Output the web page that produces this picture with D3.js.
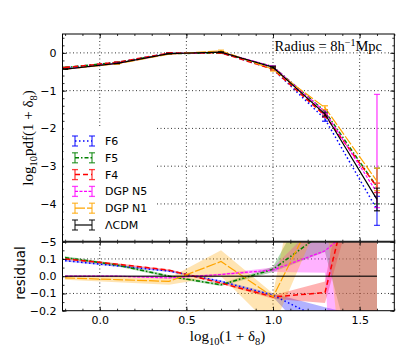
<!DOCTYPE html>
<html>
<head>
<meta charset="utf-8">
<script src="https://cdnjs.cloudflare.com/ajax/libs/d3/7.8.5/d3.min.js"></script>
<style>
  body { margin: 0; background: #fff; }
  svg { display: block; }
</style>
</head>
<body>
<svg id="chart"></svg>
<script>
// bin centres, log10(1+delta8)
const xVals = [-0.2, 0.1, 0.4, 0.7, 1.0, 1.3, 1.6];
const seriesNames = ['F6', 'F5', 'F4', 'DGP N5', 'DGP N1', 'ΛCDM'];

// log10 pdf, top panel
const pdfF6   = [-0.393, -0.255, -0.007, 0.007, -0.43, -1.75, -4.15];
const pdfF5   = [-0.386, -0.253, -0.02, -0.002, -0.365, -1.55, -3.55];
const pdfF4   = [-0.389, -0.25, -0.005, 0.002, -0.435, -1.66, -3.55];
const pdfN5   = [-0.43, -0.28, -0.024, 0.024, -0.365, -1.56, -3.7];
const pdfN1   = [-0.434, -0.289, -0.033, 0.055, -0.435, -1.45, -3.4];
const pdfLCDM = [-0.43, -0.28, -0.02, 0.02, -0.38, -1.62, -3.88];

// error bars (down / up)
const errF6Lo   = [0.005, 0.005, 0.005, 0.005, 0.02, 0.06, 0.42];
const errF6Hi   = [0.005, 0.005, 0.005, 0.005, 0.02, 0.06, 0.35];
const errF5Lo   = [0.005, 0.005, 0.005, 0.005, 0.02, 0.05, 0.45];
const errF5Hi   = [0.005, 0.005, 0.005, 0.005, 0.02, 0.05, 0.5];
const errF4Lo   = [0.005, 0.005, 0.005, 0.005, 0.02, 0.04, 0.15];
const errF4Hi   = [0.005, 0.005, 0.005, 0.005, 0.02, 0.04, 0.1];
const errN5Lo   = [0.005, 0.005, 0.005, 0.005, 0.02, 0.05, 0.4];
const errN5Hi   = [0.005, 0.005, 0.005, 0.005, 0.02, 0.05, 2.6];
const errN1Lo   = [0.005, 0.005, 0.005, 0.02, 0.05, 0.05, 0.25];
const errN1Hi   = [0.005, 0.005, 0.005, 0.02, 0.05, 0.05, 0.35];
const errLCDMLo = [0.005, 0.005, 0.005, 0.005, 0.02, 0.05, 0.3];
const errLCDMHi = [0.005, 0.005, 0.005, 0.005, 0.02, 0.05, 0.3];

// residual w.r.t. LCDM, bottom panel
const resF6   = [0.09, 0.06, 0.03, -0.03, -0.11, -0.26, -0.46];
const resF6Lo = [0.085, 0.055, 0.025, -0.035, -0.12, -0.45, -0.7];
const resF6Hi = [0.095, 0.065, 0.035, -0.025, -0.1, -0.18, -0.25];
const resF5   = [0.108, 0.065, 0.0, -0.05, 0.04, 0.26, 1.14];
const resF5Lo = [0.1, 0.058, -0.007, -0.057, 0.025, 0.14, -1.0];
const resF5Hi = [0.116, 0.072, 0.007, -0.043, 0.055, 0.6, 20];
const resF4   = [0.1, 0.07, 0.035, -0.04, -0.12, -0.095, 1.14];
const resF4Lo = [0.095, 0.065, 0.03, -0.045, -0.13, -0.155, 0.9];
const resF4Hi = [0.105, 0.075, 0.04, -0.035, -0.11, -0.03, 1.5];
const resN5   = [0.0, 0.0, -0.01, 0.01, 0.036, 0.147, 0.4];
const resN5Lo = [-0.005, -0.005, -0.015, 0.005, 0.025, 0.02, -5];
const resN5Hi = [0.005, 0.005, -0.005, 0.015, 0.05, 0.35, 20];
const resN1   = [-0.01, -0.02, -0.03, 0.085, -0.12, 0.48, 2.0];
const resN1Lo = [-0.02, -0.035, -0.05, 0.0, -0.3, 0.4, -2.5];
const resN1Hi = [0.0, -0.005, -0.01, 0.15, -0.1, 1.4, 20];
const resLCDM = [0, 0, 0, 0, 0, 0, 0];

const mainTicks = [-5, -4, -3, -2, -1, 0];
const resTicks = [-0.2, -0.1, 0.0, 0.1];
const xTicks = [0.0, 0.5, 1.0, 1.5];

const styles = {
  'F6':     { color: '#0000ff', dash: '1.5,2.5', width: 1.5 },
  'F5':     { color: '#008000', dash: '4,2,1.5,2', width: 1.5 },
  'F4':     { color: '#ff0000', dash: '5,3', width: 1.5 },
  'DGP N5': { color: '#ff00ff', dash: '3,1.5', width: 1.2 },
  'DGP N1': { color: '#ffa500', dash: '10,2', width: 1.2 },
  'ΛCDM':   { color: '#000000', dash: null, width: 1.2 }
};

const series = [
  { pdf: pdfF6, lo: errF6Lo, hi: errF6Hi, res: resF6, rLo: resF6Lo, rHi: resF6Hi },
  { pdf: pdfF5, lo: errF5Lo, hi: errF5Hi, res: resF5, rLo: resF5Lo, rHi: resF5Hi },
  { pdf: pdfF4, lo: errF4Lo, hi: errF4Hi, res: resF4, rLo: resF4Lo, rHi: resF4Hi },
  { pdf: pdfN5, lo: errN5Lo, hi: errN5Hi, res: resN5, rLo: resN5Lo, rHi: resN5Hi },
  { pdf: pdfN1, lo: errN1Lo, hi: errN1Hi, res: resN1, rLo: resN1Lo, rHi: resN1Hi },
  { pdf: pdfLCDM, lo: errLCDMLo, hi: errLCDMHi, res: resLCDM, rLo: null, rHi: null }
].map((s, i) => Object.assign(s, { name: seriesNames[i] }));

const width = 415, height = 346;
const left = 62.5, right = 394.3, mainTop = 34, mainBot = 241.7, resBot = 310.7;

const x = d3.scaleLinear().domain([-0.215, 1.7]).range([left, right]);
const yMain = d3.scaleLinear().domain([-5, 0.5]).range([mainBot, mainTop]);
const yRes = d3.scaleLinear().domain([-0.2, 0.2]).range([resBot, mainBot]);

const svg = d3.select('#chart')
  .attr('width', width)
  .attr('height', height)
  .style('font-family', '"DejaVu Sans", sans-serif');

const defs = svg.append('defs');
defs.append('clipPath').attr('id', 'clipMain')
  .append('rect').attr('x', left).attr('y', mainTop)
  .attr('width', right - left).attr('height', mainBot - mainTop);
defs.append('clipPath').attr('id', 'clipRes')
  .append('rect').attr('x', left).attr('y', mainBot)
  .attr('width', right - left).attr('height', resBot - mainBot);

// grid
const grid = svg.append('g')
  .attr('stroke', '#000')
  .attr('stroke-width', 0.8)
  .attr('stroke-dasharray', '1,2.5');
xTicks.forEach(v => {
  grid.append('line').attr('x1', x(v)).attr('x2', x(v)).attr('y1', mainTop).attr('y2', resBot);
});
[-4, -3, -2, -1, 0].forEach(v => {
  grid.append('line').attr('x1', left).attr('x2', right).attr('y1', yMain(v)).attr('y2', yMain(v));
});
[-0.1, 0.1].forEach(v => {
  grid.append('line').attr('x1', left).attr('x2', right).attr('y1', yRes(v)).attr('y2', yRes(v));
});

// ---- main panel
const mainG = svg.append('g').attr('clip-path', 'url(#clipMain)');
const line = d3.line().x((d, i) => x(xVals[i])).y(d => yMain(d));

series.forEach(s => {
  const st = styles[s.name];
  const g = mainG.append('g');
  g.append('path')
    .attr('d', line(s.pdf))
    .attr('fill', 'none')
    .attr('stroke', st.color)
    .attr('stroke-width', st.width)
    .attr('stroke-dasharray', st.dash);

  const bars = g.selectAll('g.bar')
    .data(xVals.map((xv, i) => ({ xv, v: s.pdf[i], lo: s.lo[i], hi: s.hi[i] })))
    .enter().append('g')
    .attr('stroke', st.color)
    .attr('stroke-width', 1.3)
    .attr('stroke-opacity', 0.75);
  bars.append('line')
    .attr('x1', d => x(d.xv)).attr('x2', d => x(d.xv))
    .attr('y1', d => yMain(d.v - d.lo)).attr('y2', d => yMain(d.v + d.hi));
  bars.append('line')
    .attr('x1', d => x(d.xv) - 3).attr('x2', d => x(d.xv) + 3)
    .attr('y1', d => yMain(d.v - d.lo)).attr('y2', d => yMain(d.v - d.lo));
  bars.append('line')
    .attr('x1', d => x(d.xv) - 3).attr('x2', d => x(d.xv) + 3)
    .attr('y1', d => yMain(d.v + d.hi)).attr('y2', d => yMain(d.v + d.hi));
});

// ---- residual panel
const resG = svg.append('g').attr('clip-path', 'url(#clipRes)');
const band = d3.area()
  .x(d => x(d.xv))
  .y0(d => yRes(d.lo))
  .y1(d => yRes(d.hi));
const resLine = d3.line().x((d, i) => x(xVals[i])).y(d => yRes(d));

series.filter(s => s.rLo).forEach(s => {
  resG.append('path')
    .attr('d', band(xVals.map((xv, i) => ({ xv, lo: s.rLo[i], hi: s.rHi[i] }))))
    .attr('fill', styles[s.name].color)
    .attr('fill-opacity', 0.3)
    .attr('stroke', 'none');
});

series.forEach(s => {
  const st = styles[s.name];
  resG.append('path')
    .attr('d', resLine(s.res))
    .attr('fill', 'none')
    .attr('stroke', st.color)
    .attr('stroke-width', s.name === 'ΛCDM' ? 1.5 : st.width)
    .attr('stroke-opacity', s.name === 'ΛCDM' ? 0.75 : 1)
    .attr('stroke-dasharray', st.dash);
});

// ---- axes (inward ticks, matplotlib style)
function fmtMain(d) { return d3.format('d')(d); }
function fmtRes(d) { return d3.format('.1f')(d); }
const minorX = d3.range(-0.2, 1.71, 0.1);

function addAxis(axis, tx, ty) {
  const g = svg.append('g')
    .attr('transform', `translate(${tx},${ty})`)
    .style('font-size', '11px')
    .style('font-family', '"DejaVu Sans", sans-serif')
    .call(axis);
  g.select('.domain').remove();
  g.selectAll('line').attr('stroke', '#000').attr('stroke-width', 0.8);
  g.selectAll('text').attr('fill', '#000');
  return g;
}

// main panel
addAxis(d3.axisLeft(yMain).tickValues(mainTicks).tickFormat(fmtMain).tickSize(-4).tickPadding(6), left, 0);
addAxis(d3.axisLeft(yMain).tickValues(d3.range(-5, 0.51, 0.2)).tickFormat('').tickSize(-2), left, 0);
addAxis(d3.axisRight(yMain).tickValues(mainTicks).tickFormat('').tickSize(-4), right, 0);
addAxis(d3.axisRight(yMain).tickValues(d3.range(-5, 0.51, 0.2)).tickFormat('').tickSize(-2), right, 0);
addAxis(d3.axisTop(x).tickValues(xTicks).tickFormat('').tickSize(-4), 0, mainTop);
addAxis(d3.axisTop(x).tickValues(minorX).tickFormat('').tickSize(-2), 0, mainTop);
addAxis(d3.axisBottom(x).tickValues(xTicks).tickFormat('').tickSize(-4), 0, mainBot);
addAxis(d3.axisBottom(x).tickValues(minorX).tickFormat('').tickSize(-2), 0, mainBot);

// residual panel
addAxis(d3.axisLeft(yRes).tickValues(resTicks).tickFormat(fmtRes).tickSize(-4).tickPadding(6), left, 0);
addAxis(d3.axisLeft(yRes).tickValues(d3.range(-0.2, 0.21, 0.05)).tickFormat('').tickSize(-2), left, 0);
addAxis(d3.axisRight(yRes).tickValues([-0.2, -0.1, 0, 0.1, 0.2]).tickFormat('').tickSize(-4), right, 0);
addAxis(d3.axisRight(yRes).tickValues(d3.range(-0.2, 0.21, 0.05)).tickFormat('').tickSize(-2), right, 0);
addAxis(d3.axisTop(x).tickValues(xTicks).tickFormat('').tickSize(-4), 0, mainBot);
addAxis(d3.axisTop(x).tickValues(minorX).tickFormat('').tickSize(-2), 0, mainBot);
addAxis(d3.axisBottom(x).tickValues(xTicks).tickFormat(d3.format('.1f')).tickSize(-4).tickPadding(6), 0, resBot);
addAxis(d3.axisBottom(x).tickValues(minorX).tickFormat('').tickSize(-2), 0, resBot);

// frames
svg.append('rect')
  .attr('x', left).attr('y', mainTop)
  .attr('width', right - left).attr('height', mainBot - mainTop)
  .attr('fill', 'none').attr('stroke', '#000').attr('stroke-width', 1);
svg.append('rect')
  .attr('x', left).attr('y', mainBot)
  .attr('width', right - left).attr('height', resBot - mainBot)
  .attr('fill', 'none').attr('stroke', '#000').attr('stroke-width', 1);
svg.append('line')
  .attr('x1', left).attr('x2', right).attr('y1', mainBot).attr('y2', mainBot)
  .attr('stroke', '#222').attr('stroke-width', 1.8);

// ---- legend
const legend = svg.append('g');
legend.append('rect')
  .attr('x', left + 1).attr('y', 127).attr('width', 93).attr('height', 109)
  .attr('fill', '#fff');
seriesNames.forEach((name, i) => {
  const st = styles[name];
  const cy = 141 + i * 16.8;
  const row = legend.append('g');
  row.append('line')
    .attr('x1', 75).attr('x2', 92).attr('y1', cy).attr('y2', cy)
    .attr('stroke', st.color).attr('stroke-width', st.width)
    .attr('stroke-dasharray', st.dash);
  [75, 92].forEach(bx => {
    const b = row.append('g')
      .attr('stroke', st.color).attr('stroke-width', 1.3).attr('stroke-opacity', 0.75);
    b.append('line').attr('x1', bx).attr('x2', bx).attr('y1', cy - 5).attr('y2', cy + 5);
    b.append('line').attr('x1', bx - 3).attr('x2', bx + 3).attr('y1', cy - 5).attr('y2', cy - 5);
    b.append('line').attr('x1', bx - 3).attr('x2', bx + 3).attr('y1', cy + 5).attr('y2', cy + 5);
  });
  row.append('text')
    .attr('x', 105).attr('y', cy + 4)
    .style('font-size', '11px')
    .text(name);
});

// ---- labels
const serif = '"Liberation Serif", "DejaVu Serif", serif';

const radius = svg.append('text')
  .attr('x', 382).attr('y', 50.5)
  .attr('text-anchor', 'end')
  .style('font-family', serif)
  .style('font-size', '14.5px');
radius.append('tspan').text('Radius = 8h');
radius.append('tspan').attr('dy', -5).style('font-size', '10px').text('−1');
radius.append('tspan').attr('dy', 5).text('Mpc');

const yLab = svg.append('text')
  .attr('transform', 'translate(33,138) rotate(-90)')
  .attr('text-anchor', 'middle')
  .style('font-family', serif)
  .style('font-size', '15px');
yLab.append('tspan').text('log');
yLab.append('tspan').attr('dy', 3.5).style('font-size', '10.5px').text('10');
yLab.append('tspan').attr('dy', -3.5).text('pdf(1 + δ');
yLab.append('tspan').attr('dy', 3.5).style('font-size', '10.5px').text('8');
yLab.append('tspan').attr('dy', -3.5).text(')');

svg.append('text')
  .attr('transform', 'translate(25,273) rotate(-90)')
  .attr('text-anchor', 'middle')
  .style('font-size', '13.5px')
  .text('residual');

const xLab = svg.append('text')
  .attr('x', 227.5).attr('y', 341)
  .attr('text-anchor', 'middle')
  .style('font-family', serif)
  .style('font-size', '15px');
xLab.append('tspan').text('log');
xLab.append('tspan').attr('dy', 3.5).style('font-size', '10.5px').text('10');
xLab.append('tspan').attr('dy', -3.5).text('(1 + δ');
xLab.append('tspan').attr('dy', 3.5).style('font-size', '10.5px').text('8');
xLab.append('tspan').attr('dy', -3.5).text(')');
</script>
</body>
</html>
